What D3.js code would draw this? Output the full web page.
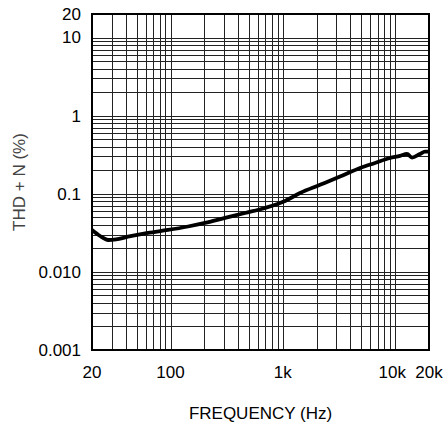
<!DOCTYPE html>
<html>
<head>
<meta charset="utf-8">
<script src="https://cdn.jsdelivr.net/npm/d3@7"></script>
<style>
  html, body { margin: 0; padding: 0; background: #fff; }
  svg { display: block; font-family: Arial, "Liberation Sans", sans-serif; }
</style>
</head>
<body>
<div id="chart"></div>
<script>
// THD+N vs frequency
const freqs = [20, 23.6, 27.8, 32.7, 41.8, 63, 95, 143, 203, 306, 460, 694, 1046, 1422, 2143, 3230, 4865, 6612, 8990, 11040, 12740, 14120, 16620, 18420, 20000]
const thdn = [0.0344, 0.0288, 0.0256, 0.026, 0.0282, 0.0315, 0.0344, 0.0381, 0.0423, 0.049, 0.0567, 0.0658, 0.0809, 0.102, 0.13, 0.166, 0.214, 0.248, 0.287, 0.305, 0.323, 0.29, 0.323, 0.346, 0.346]

const xTickValues = [20, 100, 1000, 10000, 20000]
const xTickLabels = ['20', '100', '1k', '10k', '20k']
const yTickValues = [0.001, 0.01, 0.1, 1, 10, 20]
const yTickLabels = ['0.001', '0.010', '0.1', '1', '10', '20']

const W = 448
const H = 428
const margin = { top: 14, right: 19, bottom: 78, left: 92 }
const width = W - margin.left - margin.right
const height = H - margin.top - margin.bottom
const fontSize = 17

const x = d3.scaleLog().domain([20, 20000]).range([0, width])
const y = d3.scaleLog().domain([0.001, 20]).range([height, 0])

const svg = d3.select('#chart').append('svg')
  .attr('width', W)
  .attr('height', H)

const g = svg.append('g')
  .attr('transform', `translate(${margin.left}, ${margin.top})`)

// grid
const grid = g.append('g').attr('shape-rendering', 'crispEdges')

grid.selectAll('.vline').data(x.ticks())
  .enter().append('line').attr('class', 'vline')
  .attr('x1', (d) => Math.round(x(d)) + 0.5)
  .attr('x2', (d) => Math.round(x(d)) + 0.5)
  .attr('y1', 0)
  .attr('y2', height)
  .attr('stroke', '#222')
  .attr('stroke-width', 1)

grid.selectAll('.hline').data(y.ticks())
  .enter().append('line').attr('class', 'hline')
  .attr('y1', (d) => Math.round(y(d)) + 0.5)
  .attr('y2', (d) => Math.round(y(d)) + 0.5)
  .attr('x1', 0)
  .attr('x2', width)
  .attr('stroke', '#222')
  .attr('stroke-width', 1)

// frame
g.append('rect')
  .attr('x', 0)
  .attr('y', 0)
  .attr('width', width)
  .attr('height', height)
  .attr('fill', 'none')
  .attr('stroke', '#000')
  .attr('stroke-width', 2)

// curve
const line = d3.line()
  .x((d, i) => x(freqs[i]))
  .y((d) => y(d))
  .curve(d3.curveMonotoneX)

g.append('path')
  .datum(thdn)
  .attr('d', line)
  .attr('fill', 'none')
  .attr('stroke', '#000')
  .attr('stroke-width', 3.8)
  .attr('stroke-linejoin', 'round')

// tick labels
g.selectAll('.xlabel').data(xTickValues)
  .enter().append('text').attr('class', 'xlabel')
  .attr('x', (d) => x(d) + (d === 10000 ? -3 : 0))
  .attr('y', height + 28)
  .attr('text-anchor', 'middle')
  .attr('font-size', fontSize)
  .text((d, i) => xTickLabels[i])

g.selectAll('.ylabel').data(yTickValues)
  .enter().append('text').attr('class', 'ylabel')
  .attr('x', -11)
  .attr('y', (d) => y(d))
  .attr('dy', '0.35em')
  .attr('text-anchor', 'end')
  .attr('font-size', fontSize)
  .text((d, i) => yTickLabels[i])

// axis titles
g.append('text')
  .attr('x', width / 2)
  .attr('y', height + 69)
  .attr('text-anchor', 'middle')
  .attr('font-size', fontSize)
  .text('FREQUENCY (Hz)')

g.append('text')
  .attr('transform', `translate(${-67}, ${height / 2}) rotate(-90)`)
  .attr('text-anchor', 'middle')
  .attr('font-size', fontSize)
  .attr('fill', '#444')
  .text('THD + N (%)')
</script>
</body>
</html>
